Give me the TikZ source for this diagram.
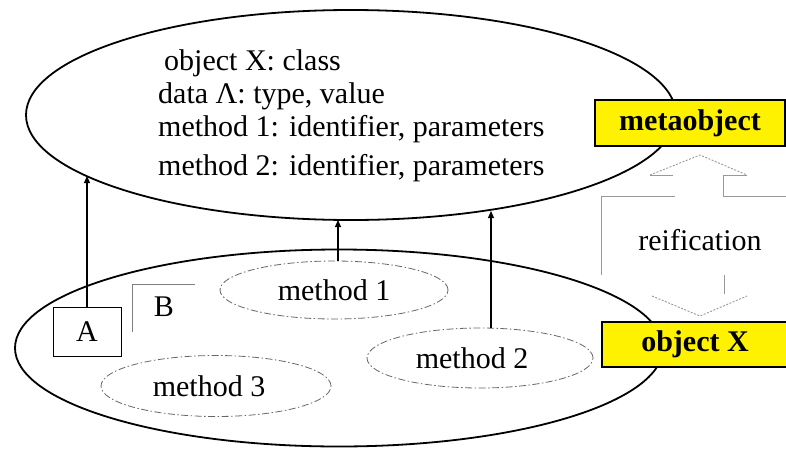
\documentclass[tikz,border=0pt]{standalone}
\usepackage{fontspec}
\setmainfont{Liberation Serif}
\usetikzlibrary{shapes.geometric,arrows.meta}
\definecolor{reifgray}{gray}{0.6}
\begin{document}
\begin{tikzpicture}[x=1pt,y=-1pt,
  txt/.style={font=\fontsize{30}{34}\selectfont, inner sep=0pt},
  bigell/.style={draw, line width=1.8pt, ellipse, inner sep=0pt},
  methell/.style={draw=black!60, line width=0.8pt, ellipse, inner sep=0pt,
    dash pattern=on 7pt off 2.5pt on 1.5pt off 2.5pt, font=\fontsize{30}{34}\selectfont},
  ybox/.style={draw, line width=1.6pt, fill=yellow, inner sep=0pt,
    font=\fontsize{30}{34}\selectfont\bfseries},
  link/.style={line width=1.1pt, -{Triangle[length=7pt,width=6pt]}},
  reif/.style={draw=reifgray, line width=0.9pt},
  reifdot/.style={draw=reifgray, line width=0.9pt, dash pattern=on 2pt off 1.5pt}
]
\useasboundingbox (0,0) rectangle (786,450);

% big ellipses
\node[bigell, minimum width=650pt, minimum height=210pt] (top) at (351,115) {};
\node[bigell, minimum width=648pt, minimum height=197pt] (bot) at (339,348) {};

% text in the top ellipse
\node[txt, anchor=west] (l1) at (164,63) {object X: class};
\node[txt, anchor=west] (l2) at (158,96) {data Λ: type, value};
\node[txt, anchor=west] (l3) at (158,129) {method 1: identifier, parameters};
\node[txt, anchor=west] (l4) at (158,168) {method 2: identifier, parameters};

% method ellipses
\node[methell, minimum width=228pt, minimum height=58pt] (m1) at (334,290) {method 1};
\node[methell, minimum width=226pt, minimum height=60pt] (m2) at (480,358) {};
\node[txt] (m2t) at (472,358) {method 2};
\node[methell, minimum width=230pt, minimum height=61pt] (m3) at (216,386) {};
\node[txt] (m3t) at (209,386) {method 3};

% A and B
\node[draw, line width=1pt, minimum width=68pt, minimum height=49pt, txt] (A) at (87,332) {A};
\draw[draw=gray, line width=0.9pt] (195,284) -- (132,284) -- (132,332);
\node[txt] (B) at (164,307) {B};

% connectors
\coordinate (tA) at (87,176);
\coordinate (t1) at (338,220);
\coordinate (t2) at (491,211);
\draw[link] (A.north) -- (tA);
\draw[link] (m1.north -| t1) -- (t1);
\draw[link] (m2.north -| t2) -- (t2);

% reification double arrow
\coordinate (ua) at (700,155);
\coordinate (ul) at (650,175);
\coordinate (ur) at (747,175);
\coordinate (ba) at (700,316);
\coordinate (bl) at (652,296);
\coordinate (br) at (747,296);
\draw[reifdot] (ul) -- (ua) -- (ur);
\draw[reifdot] (bl) -- (ba) -- (br);
\draw[reif] (650,175) -- (673,175);
\draw[reif] (747,175) -- (723,175) -- (723,196) -- (786,196);
\draw[reif] (675,196) -- (601,196) -- (601,275);
\draw[reif] (724,275) -- (724,294);
\node[txt] (reifl) at (700,240) {reification};

% yellow boxes
\node[ybox, minimum width=190pt, minimum height=46pt] (meta) at (690,123) {metaobject};
\node[ybox, minimum width=186pt, minimum height=45pt] (objx) at (695,344.5) {object X};
\end{tikzpicture}
\end{document}
